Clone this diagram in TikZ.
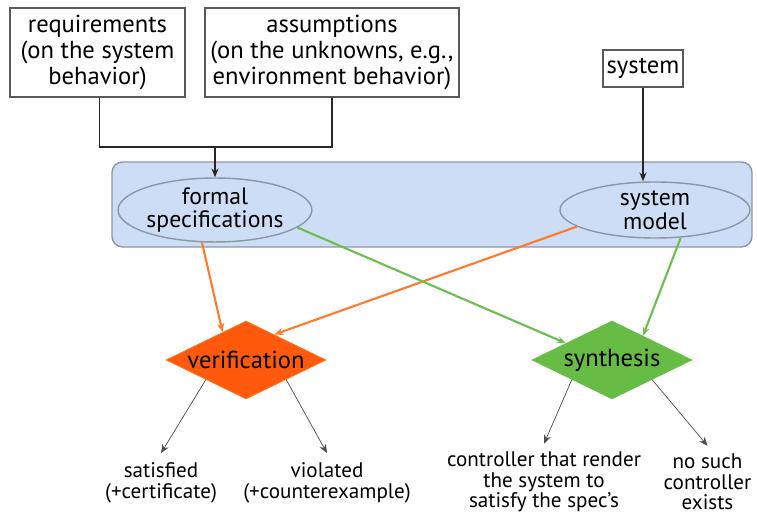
\documentclass[tikz,border=0pt]{standalone}
\usepackage{fontspec}
\setmainfont{PT Sans}
\usepackage{tikz}
\usepackage{xcolor}
\usetikzlibrary{shapes.geometric}
\usetikzlibrary{arrows.meta}

\definecolor{panelblue}{HTML}{CEDDF6}
\definecolor{panelline}{HTML}{8C97A6}
\definecolor{verorange}{HTML}{FF5A0C}
\definecolor{arrorange}{HTML}{FF7A2A}
\definecolor{syngreen}{HTML}{66BC45}
\definecolor{arrgreen}{HTML}{6CBE50}

\begin{document}
\begin{tikzpicture}[
    inbox/.style={draw=black!65, thick, fill=white, align=center, font=\fontsize{14}{15}\selectfont, inner sep=2pt},
    spec/.style={ellipse, draw=panelline, thick, fill=panelblue, align=center, font=\fontsize{13.5}{13.5}\selectfont, inner sep=0pt},
    task/.style={diamond, shape aspect=2.05, minimum width=3.2cm, minimum height=1.56cm, inner sep=0pt, font=\fontsize{14}{15}\selectfont},
    outtext/.style={align=center, font=\fontsize{12}{11.8}\selectfont},
    tip/.style={-{Stealth[length=5pt,width=4pt]}}
    ]
            \useasboundingbox (0,0) rectangle (15.14,10.28);
            % inputs
            \node[inbox, minimum width=3.5cm, minimum height=1.78cm] (req) at (1.95,9.23){requirements\\(on the system\\behavior)};
            \node[inbox, minimum width=5.08cm, minimum height=1.78cm] (ass) at (6.64,9.23){assumptions\\(on the unknowns, e.g.,\\environment behavior)};
            \node[inbox, minimum width=1.6cm, minimum height=0.74cm] (sys) at (12.86,8.91){system};
            % blue panel
            \draw[panelline, thick, fill=panelblue, rounded corners=6pt] (2.24,5.34) rectangle (15.04,7.04);
            \node[spec, minimum width=3.72cm, minimum height=1.12cm] (spec) at (4.3,6.08){formal\\specifications};
            \node[spec, minimum width=3.8cm, minimum height=1.12cm] (model) at (13.1,6.08){system\\model};
            % joining the inputs
            \coordinate (join) at (4.3,7.34);
            \draw[black!85, thick] ([xshift=1pt]req.south) |- (ass.south |- join) -- (ass.south);
            \draw[black!85, thick, tip] (join) -- (join |- spec.north);
            \draw[black!85, thick, tip] (sys.south) -- (sys.south |- model.north);
            % tasks
            \node[task, draw=arrorange, fill=verorange] (verif) at (4.92,3.08){verification};
            \node[task, draw=arrgreen, fill=syngreen] (synth) at (12.24,3.08){synthesis};
            \draw[arrorange, very thick, tip] (spec.-112) -- (verif.130);
            \draw[arrorange, very thick, tip] (model.192) -- (verif.42);
            \draw[arrgreen, very thick, tip] (spec.-12) -- (synth.160);
            \draw[arrgreen, very thick, tip] (model.-47) -- (synth.38);
            % outcomes
            \node[outtext] (sat) at (3.22,0.62){satisfied\\(+certificate)};
            \node[outtext] (vio) at (6.54,0.62){violated\\(+counterexample)};
            \node[outtext] (ctrl) at (10.88,0.64){controller that render\\the system to\\satisfy the spec's};
            \node[outtext] (nosuch) at (14.15,0.64){no such\\controller\\exists};
            \draw[black!70, tip] (verif.south west) -- ([yshift=2pt]sat.north);
            \draw[black!70, tip] (verif.south east) -- ([yshift=2pt]vio.north);
            \draw[black!70, tip] (synth.south west) -- ([yshift=1pt]ctrl.north);
            \draw[black!70, tip] (synth.south east) -- ([yshift=1pt]nosuch.north);
        \end{tikzpicture}
\end{document}
